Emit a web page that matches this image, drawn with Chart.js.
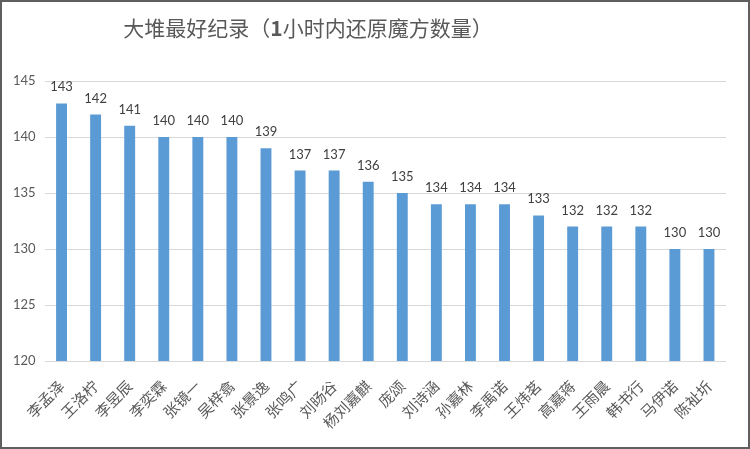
<!DOCTYPE html>
<html>
<head>
<meta charset="utf-8">
<script src="https://cdn.jsdelivr.net/npm/chart.js@4"></script>
<style>
html,body{margin:0;padding:0;background:#fff;}
#wrap{width:750px;height:449px;}
</style>
</head>
<body>
<div id="wrap"><canvas id="c" width="750" height="449"></canvas></div>
<script>
const titleParts = ["大堆最好纪录（", "1", "小时内还原魔方数量）"];
const names = ["李孟泽","王洛柠","李昱辰","李奕霖","张镜一","吴梓翕","张景逸","张鸣广","刘旸谷","杨刘嘉麒","庞颂","刘诗涵","孙嘉林","李禹诺","王炜茗","高嘉蒋","王雨晨","韩书行","马伊诺","陈祉圻"];
const counts = [143,142,141,140,140,140,139,137,137,136,135,134,134,134,133,132,132,132,130,130];
const yTicks = [120,125,130,135,140,145];

const CJK = '"Noto Sans CJK SC", "Noto Sans", sans-serif';
const NUM = 'Lato, "Open Sans", "Noto Sans", sans-serif';

const framePlugin = {
  id: 'frame',
  beforeDraw(chart) {
    const ctx = chart.ctx;
    ctx.save();
    ctx.fillStyle = '#ffffff';
    ctx.fillRect(0, 0, chart.width, chart.height);
    ctx.restore();
  },
  afterDraw(chart) {
    const ctx = chart.ctx;
    ctx.save();
    ctx.strokeStyle = '#5f5f5f';
    ctx.lineWidth = 2;
    ctx.strokeRect(1, 1, chart.width - 2, chart.height - 2);
    const fonts = ['21px ' + CJK, 'bold 21px ' + CJK, '21px ' + CJK];
    let total = 0;
    const widths = titleParts.map((t, i) => { ctx.font = fonts[i]; const w = ctx.measureText(t).width; total += w; return w; });
    let x = 308 - total / 2;
    ctx.fillStyle = '#595959';
    ctx.textBaseline = 'middle';
    ctx.textAlign = 'left';
    titleParts.forEach((t, i) => { ctx.font = fonts[i]; ctx.fillText(t, x, 28); x += widths[i]; });
    const meta = chart.getDatasetMeta(0);
    ctx.font = '13px ' + NUM;
    ctx.fillStyle = '#404040';
    ctx.textAlign = 'center';
    ctx.textBaseline = 'alphabetic';
    meta.data.forEach((bar, i) => {
      ctx.fillText(String(counts[i]), bar.x, bar.y - 12);
    });
    ctx.restore();
  }
};

new Chart(document.getElementById('c'), {
  type: 'bar',
  data: {
    labels: names,
    datasets: [{
      data: counts,
      backgroundColor: '#5b9bd5',
      borderWidth: 0,
      barPercentage: 0.32,
      categoryPercentage: 1.0
    }]
  },
  options: {
    responsive: false,
    animation: false,
    devicePixelRatio: 1,
    layout: { padding: { top: 81, right: 24, bottom: 0, left: 0 } },
    plugins: { legend: { display: false }, title: { display: false }, tooltip: { enabled: false } },
    scales: {
      y: {
        min: 120, max: 145,
        afterBuildTicks(scale) { scale.ticks = yTicks.map(v => ({ value: v })); },
        afterFit(scale) { scale.width = 44.5; },
        grid: { color: '#d9d9d9', lineWidth: 1, drawTicks: false },
        border: { display: false },
        ticks: { padding: 9, color: '#595959', font: { family: NUM, size: 13 } }
      },
      x: {
        afterFit(scale) { scale.height = 88; },
        grid: { display: false },
        border: { display: false },
        ticks: { color: '#595959', maxRotation: 45, minRotation: 45, padding: 8, autoSkip: false, font: { family: CJK, size: 15 } }
      }
    }
  },
  plugins: [framePlugin]
});
</script>
</body>
</html>
